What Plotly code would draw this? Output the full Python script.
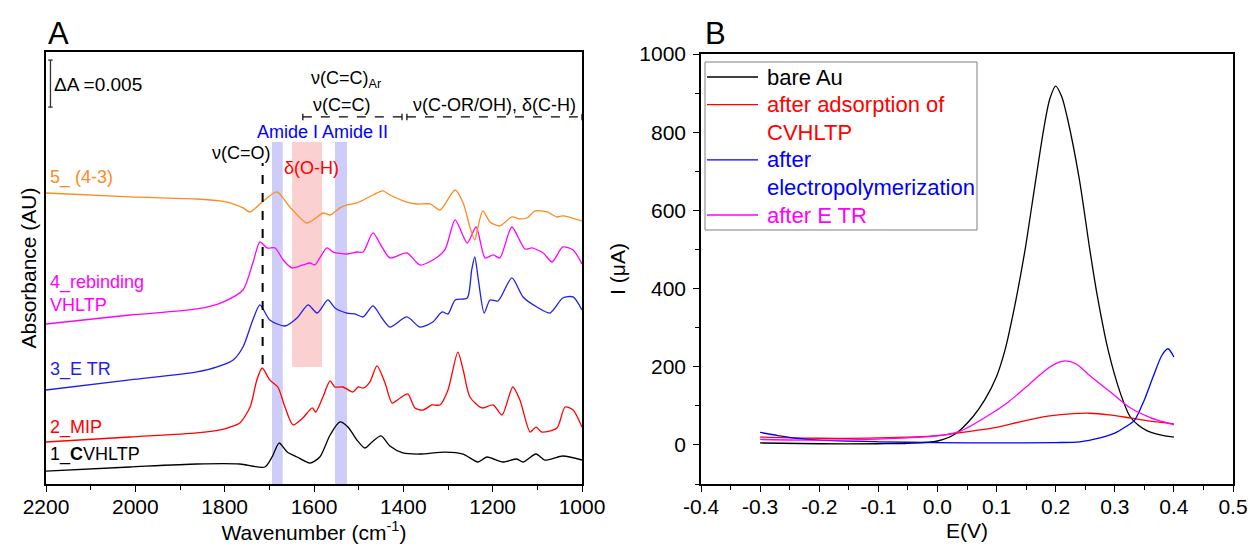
import plotly.graph_objects as go

FONT = "Arial, 'Liberation Sans', Helvetica, sans-serif"

# ---------------- Panel A: FTIR spectra (wavenumber cm-1, absorbance incl. offsets) ----------------
wn_1 = [2200, 2012, 1862, 1766, 1710, 1694, 1678, 1660, 1638, 1609, 1587, 1564, 1542, 1524, 1504, 1486,
        1470, 1450, 1430, 1401, 1363, 1307, 1266, 1233, 1213, 1177, 1146, 1132, 1103, 1083, 1043, 1000]
abs_1 = [0.00138, 0.00181, 0.00213, 0.00213, 0.00181, 0.00287, 0.00436, 0.00340, 0.00287, 0.00223, 0.00287,
         0.00521, 0.00660, 0.00606, 0.00468, 0.00383, 0.00447, 0.00511, 0.00404, 0.00330, 0.00319, 0.00340,
         0.00319, 0.00234, 0.00287, 0.00234, 0.00266, 0.00234, 0.00319, 0.00255, 0.00298, 0.00255]

wn_2 = [2200, 2012, 1862, 1810, 1788, 1766, 1743, 1728, 1716, 1699, 1681, 1665, 1647, 1625, 1604, 1596,
        1580, 1564, 1553, 1535, 1513, 1501, 1490, 1475, 1459, 1441, 1425, 1407, 1390, 1374, 1356, 1336,
        1318, 1300, 1278, 1266, 1251, 1224, 1199, 1179, 1155, 1139, 1116, 1103, 1090, 1056, 1038, 1020, 1000]
abs_2 = [0.00447, 0.00500, 0.00543, 0.00575, 0.00605, 0.00650, 0.00819, 0.01107, 0.01234, 0.01107, 0.01032,
         0.00819, 0.00628, 0.00702, 0.00809, 0.00766, 0.00926, 0.01096, 0.01032, 0.01032, 0.00979, 0.01032,
         0.01021, 0.01085, 0.01256, 0.01075, 0.00862, 0.00915, 0.00958, 0.00809, 0.00787, 0.00841, 0.00841,
         0.01000, 0.01404, 0.01213, 0.00926, 0.00809, 0.00841, 0.00734, 0.01032, 0.00894, 0.00553, 0.00606,
         0.00553, 0.00596, 0.00819, 0.00787, 0.00606]

wn_3 = [2200, 2012, 1862, 1817, 1781, 1759, 1737, 1721, 1699, 1665, 1638, 1613, 1593, 1569, 1553, 1526,
        1508, 1490, 1468, 1448, 1430, 1392, 1363, 1334, 1313, 1300, 1284, 1257, 1247, 1240, 1232, 1219,
        1206, 1188, 1157, 1132, 1101, 1072, 1043, 1020, 1000]
abs_3 = [0.01000, 0.01107, 0.01192, 0.01245, 0.01319, 0.01458, 0.01745, 0.01905, 0.01745, 0.01681, 0.01766,
         0.01905, 0.01819, 0.01958, 0.01873, 0.01819, 0.01809, 0.01777, 0.01894, 0.01766, 0.01670, 0.01777,
         0.01670, 0.01724, 0.01830, 0.01809, 0.01958, 0.01979, 0.02277, 0.02415, 0.02171, 0.01819, 0.01958,
         0.01947, 0.02192, 0.01990, 0.01883, 0.01819, 0.01979, 0.01990, 0.01851]

wn_4 = [2200, 2012, 1862, 1804, 1759, 1737, 1721, 1705, 1687, 1669, 1649, 1625, 1609, 1598, 1587, 1571,
        1557, 1526, 1504, 1490, 1468, 1448, 1430, 1392, 1363, 1334, 1307, 1284, 1257, 1237, 1217, 1199,
        1184, 1157, 1128, 1112, 1087, 1067, 1043, 1020, 1000]
abs_4 = [0.01702, 0.01798, 0.01862, 0.01936, 0.02064, 0.02351, 0.02575, 0.02511, 0.02511, 0.02383, 0.02298,
         0.02330, 0.02351, 0.02330, 0.02405, 0.02511, 0.02468, 0.02447, 0.02468, 0.02468, 0.02671, 0.02522,
         0.02405, 0.02458, 0.02330, 0.02383, 0.02490, 0.02809, 0.02564, 0.02734, 0.02405, 0.02437, 0.02405,
         0.02734, 0.02500, 0.02511, 0.02458, 0.02362, 0.02522, 0.02490, 0.02341]

wn_5 = [2200, 2012, 1862, 1810, 1788, 1759, 1743, 1716, 1683, 1654, 1616, 1593, 1580, 1564, 1542, 1526,
        1504, 1468, 1446, 1430, 1392, 1369, 1340, 1318, 1284, 1266, 1251, 1240, 1233, 1222, 1206, 1184,
        1157, 1139, 1123, 1105, 1078, 1056, 1043, 1000]
abs_5 = [0.03096, 0.03054, 0.03032, 0.03011, 0.02990, 0.02937, 0.02894, 0.03000, 0.03107, 0.02947, 0.02777,
         0.02841, 0.02883, 0.02862, 0.02937, 0.02969, 0.02990, 0.03075, 0.03118, 0.03075, 0.03000, 0.02979,
         0.02979, 0.02915, 0.03128, 0.02990, 0.02734, 0.02596, 0.02734, 0.02905, 0.02788, 0.02745, 0.02841,
         0.02820, 0.02830, 0.02905, 0.02894, 0.02841, 0.02852, 0.02798]

spectra_labels = ["1_<b>C</b>VHLTP", "2_MIP", "3_E TR", "4_rebinding", "5_ (4-3)"]
spectra_colors = ["#000000", "#FF0000", "#1F1FF0", "#FF00FF", "#FF8A1E"]

# band regions (cm-1)
amide1_band = [1694, 1670]
amide2_band = [1553, 1526]
oh_band = [1649, 1582]
co_line_wn = 1715

# ---------------- Panel B: DPV (E in V, I in uA) ----------------
E_bare = [-0.3, -0.2, -0.1, -0.05, 0.0, 0.03, 0.06, 0.08, 0.10, 0.114, 0.13, 0.148, 0.16, 0.18, 0.19, 0.20,
          0.21, 0.22, 0.24, 0.258, 0.27, 0.289, 0.31, 0.326, 0.34, 0.355, 0.37, 0.385, 0.40]
I_bare = [5, 3, 3, 4, 10, 28, 72, 115, 175, 241, 350, 497, 615, 810, 885, 918, 892, 835, 680, 497, 385, 241,
          130, 72, 50, 36, 28, 23, 20]

E_ads = [-0.3, -0.2, -0.1, 0.0, 0.06, 0.1, 0.145, 0.19, 0.219, 0.258, 0.29, 0.326, 0.36, 0.40]
I_ads = [20, 17, 18, 24, 36, 45, 61, 74, 79, 81, 77, 69, 61, 54]

E_poly = [-0.3, -0.27, -0.24, -0.2, -0.1, 0.0, 0.1, 0.2, 0.241, 0.275, 0.30, 0.32, 0.333, 0.35, 0.365,
          0.38, 0.39, 0.40]
I_poly = [32, 24, 17, 12, 8, 6, 5, 6, 8, 18, 30, 48, 62, 115, 175, 230, 246, 225]

E_etr = [-0.3, -0.2, -0.1, 0.0, 0.04, 0.09, 0.12, 0.15, 0.18, 0.20, 0.216, 0.235, 0.258, 0.297, 0.326, 0.36,
         0.38, 0.40]
I_etr = [14, 12, 15, 23, 36, 79, 110, 148, 188, 208, 215, 207, 177, 130, 95, 70, 60, 51]

legend_names = ["bare Au", "after adsorption of<br>CVHLTP", "after<br>electropolymerization", "after E TR"]
legend_colors = ["#000000", "#FF0000", "#0000FF", "#FF00FF"]

xA_ticks = [2200, 2000, 1800, 1600, 1400, 1200, 1000]
xB_tickvals = [-0.4, -0.3, -0.2, -0.1, 0.0, 0.1, 0.2, 0.3, 0.4, 0.5]
xB_ticktext = ["-0.4", "-0.3", "-0.2", "-0.1", "0.0", "0.1", "0.2", "0.3", "0.4", "0.5"]
yB_ticks = [0, 200, 400, 600, 800, 1000]

# ---------------- figure ----------------
W, H = 1250, 548
fig = go.Figure()

spec_x = [wn_1, wn_2, wn_3, wn_4, wn_5]
spec_y = [abs_1, abs_2, abs_3, abs_4, abs_5]
for xs, ys, lab, col in zip(spec_x, spec_y, spectra_labels, spectra_colors):
    fig.add_trace(go.Scatter(x=xs, y=ys, mode="lines", name=lab, showlegend=False,
                             line=dict(color=col, width=1.3, shape="spline", smoothing=0.7),
                             xaxis="x", yaxis="y", hoverinfo="skip"))

B_x = [E_bare, E_ads, E_poly, E_etr]
B_y = [I_bare, I_ads, I_poly, I_etr]
for xs, ys, nm, col in zip(B_x, B_y, legend_names, legend_colors):
    fig.add_trace(go.Scatter(x=xs, y=ys, mode="lines", name=nm.replace("<br>", " "), showlegend=False,
                             line=dict(color=col, width=1.3, shape="spline", smoothing=0.8),
                             xaxis="x2", yaxis="y2"))

# domains from pixel frame positions
xA_dom = [46 / W, 582 / W]
xB_dom = [701 / W, 1233 / W]
yA_dom = [64 / H, 1 - 52 / H]
yB_dom = [64 / H, 1 - 54 / H]
yA_range = [0, 0.04596]

axis_common = dict(showgrid=False, zeroline=False, showline=True, linecolor="black", linewidth=1.6,
                   automargin=False, tickcolor="black", tickwidth=1.4,
                   tickfont=dict(family=FONT, size=21, color="black"))

fig.update_layout(
    width=W, height=H, margin=dict(l=0, r=0, t=0, b=0),
    paper_bgcolor="white", plot_bgcolor="white",
    font=dict(family=FONT, color="black"),
    showlegend=False,
    xaxis=dict(domain=xA_dom, anchor="y", range=[2200, 1000], tickmode="array", tickvals=xA_ticks,
               ticks="outside", ticklen=6, mirror=True, ticklabelstandoff=-3,
               minor=dict(ticks="outside", ticklen=4, tickmode="linear", tick0=1000, dtick=100,
                          tickcolor="black", tickwidth=1.2),
               title=dict(text="Wavenumber (cm<sup>-1</sup>)", font=dict(family=FONT, size=21), standoff=6),
               **axis_common),
    xaxis3=dict(overlaying="x", side="top", anchor="y", range=[2200, 1000], tickmode="array",
                tickvals=xA_ticks, ticks="inside", ticklen=7, showticklabels=False, showgrid=False,
                zeroline=False, showline=False, tickcolor="black", tickwidth=1.4, automargin=False,
                minor=dict(ticks="inside", ticklen=4, tickmode="linear", tick0=1000, dtick=100,
                           tickcolor="black", tickwidth=1.2)),
    yaxis=dict(domain=yA_dom, anchor="x", range=yA_range, showticklabels=False, ticks="", mirror=True,
               title=dict(text="Absorbance (AU)", font=dict(family=FONT, size=21), standoff=2),
               **axis_common),
    xaxis2=dict(domain=xB_dom, anchor="y2", range=[-0.4, 0.5], tickmode="array", tickvals=xB_tickvals,
                ticktext=xB_ticktext, ticks="outside", ticklen=6, mirror=True, ticklabelstandoff=-3,
                minor=dict(ticks="outside", ticklen=4, tickmode="linear", tick0=0, dtick=0.05,
                           tickcolor="black", tickwidth=1.2),
                title=dict(text="E(V)", font=dict(family=FONT, size=21), standoff=6),
                **axis_common),
    yaxis2=dict(domain=yB_dom, anchor="x2", range=[-100, 1000], tickmode="array", tickvals=yB_ticks,
                ticks="outside", ticklen=6, mirror=True, ticklabelstandoff=3,
                minor=dict(ticks="outside", ticklen=4, tickmode="linear", tick0=0, dtick=100,
                           tickcolor="black", tickwidth=1.2),
                title=dict(text="I (\u03bcA)", font=dict(family=FONT, size=21), standoff=8),
                **axis_common),
    yaxis4=dict(overlaying="y2", side="right", anchor="x2", range=[-100, 1000], tickmode="array",
                tickvals=yB_ticks, ticks="inside", ticklen=6, showticklabels=False, showgrid=False,
                zeroline=False, showline=False, tickcolor="black", tickwidth=1.4, automargin=False,
                minor=dict(ticks="inside", ticklen=4, tickmode="linear", tick0=0, dtick=100,
                           tickcolor="black", tickwidth=1.2)),
)

# ---------------- shapes (panel A) ----------------
band_fill = "rgba(90,90,230,0.30)"
shapes = []
for x0, x1 in (amide1_band, amide2_band):
    shapes.append(dict(type="rect", xref="x", yref="y", x0=x0, x1=x1, y0=0, y1=0.03639,
                       fillcolor=band_fill, line=dict(width=0), layer="below"))
shapes.append(dict(type="rect", xref="x", yref="y", x0=oh_band[0], x1=oh_band[1], y0=0.01245, y1=0.03639,
                   fillcolor="rgba(240,100,100,0.30)", line=dict(width=0), layer="below"))
# nu(C=O) dashed marker
shapes.append(dict(type="line", xref="x", yref="y", x0=co_line_wn, x1=co_line_wn, y0=0.01277, y1=0.03415,
                   line=dict(color="black", width=2, dash="dash")))
# dashed range brackets
bracket_y = 0.03905
cap = 0.00035
for x0, x1 in ((1625, 1403), (1392, 1000)):
    shapes.append(dict(type="line", xref="x", yref="y", x0=x0, x1=x1, y0=bracket_y, y1=bracket_y,
                       line=dict(color="black", width=1.3, dash="dash")))
    for xc in (x0, x1):
        shapes.append(dict(type="line", xref="x", yref="y", x0=xc, x1=xc, y0=bracket_y - cap,
                           y1=bracket_y + cap, line=dict(color="black", width=1.2)))
# scale bar (delta A = 0.005)
sb_x, sb_y0, sb_len = 2190, 0.0401, 0.005
shapes.append(dict(type="line", xref="x", yref="y", x0=sb_x, x1=sb_x, y0=sb_y0, y1=sb_y0 + sb_len,
                   line=dict(color="#333333", width=1.3)))
for yy in (sb_y0, sb_y0 + sb_len):
    shapes.append(dict(type="line", xref="x", yref="y", x0=sb_x - 5, x1=sb_x + 5, y0=yy, y1=yy,
                       line=dict(color="#333333", width=1.3)))

# ---------------- legend box for panel B (drawn in paper coordinates) ----------------
LEG_L, LEG_R, LEG_T, LEG_B = 705, 977, 62, 230
LINE_X0, LINE_X1, TEXT_X = 707, 758, 765
LINE_PITCH = 27.6
shapes.append(dict(type="rect", xref="paper", yref="paper", x0=LEG_L / W, x1=LEG_R / W,
                   y0=1 - LEG_B / H, y1=1 - LEG_T / H, fillcolor="white",
                   line=dict(color="#808080", width=1)))

ann = []
def txt(text, x, y, size=18, color="black", xanchor="center", xref="x", yref="y"):
    ann.append(dict(text=text, x=x, y=y, xref=xref, yref=yref, xanchor=xanchor, yanchor="middle",
                    showarrow=False, font=dict(family=FONT, size=size, color=color)))

row = 0
for nm, col in zip(legend_names, legend_colors):
    ycen = LEG_T + 15 + row * LINE_PITCH
    shapes.append(dict(type="line", xref="paper", yref="paper", x0=LINE_X0 / W, x1=LINE_X1 / W,
                       y0=1 - ycen / H, y1=1 - ycen / H, line=dict(color=col, width=1.3)))
    for part in nm.split("<br>"):
        ycen = LEG_T + 15 + row * LINE_PITCH
        txt(part, TEXT_X / W, 1 - ycen / H, size=22, color=col, xanchor="left", xref="paper", yref="paper")
        row += 1
fig.update_layout(shapes=shapes)

# ---------------- annotations (panel A) ----------------
txt("\u0394A =0.005", 2186, 0.04245, size=19, xanchor="left")
txt("\u03bd(C=C)<sub>Ar</sub>", 1528, 0.04299)
txt("\u03bd(C=C)", 1537, 0.04033)
txt("\u03bd(C-OR/OH), \u03b4(C-H)", 1197, 0.04033)
txt("Amide I Amide II", 1580, 0.03745, color="#0000FF")
txt("\u03bd(C=O)", 1763, 0.03522)
txt("\u03b4(O-H)", 1605, 0.03362, color="#FF0000")

label_y = [0.00309, 0.00606, 0.01213, 0.02139, 0.03256]
for lab, col, yy in zip(spectra_labels, spectra_colors, label_y):
    txt(lab, 2196, yy, color=col, xanchor="left")
    if lab == "4_rebinding":
        txt("VHLTP", 2196, 0.01905, color=col, xanchor="left")

txt("A", 46 / W, 1 - 34 / H, size=31, xanchor="left", xref="paper", yref="paper")
txt("B", 703 / W, 1 - 33 / H, size=31, xanchor="left", xref="paper", yref="paper")
fig.update_layout(annotations=ann)

fig.write_html("out.html", config={"displayModeBar": False},
               post_script="document.body.style.margin='0';document.body.style.overflow='hidden';")
